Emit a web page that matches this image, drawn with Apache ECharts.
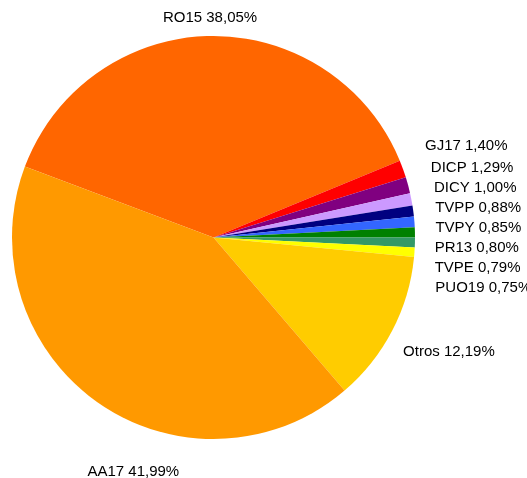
<!DOCTYPE html>
<html>
<head>
<meta charset="utf-8">
<script src="https://cdn.jsdelivr.net/npm/echarts@6/dist/echarts.min.js"></script>
<style>
  html, body { margin: 0; padding: 0; background: #ffffff; }
  #chart { width: 527px; height: 478px; }
</style>
</head>
<body>
<div id="chart"></div>
<script>
// Vote share per list (percent), clockwise from the RO15 slice
const categories = ['RO15', 'GJ17', 'DICP', 'DICY', 'TVPP', 'TVPY', 'PR13', 'TVPE', 'PUO19', 'Otros', 'AA17'];
const shares = [38.05, 1.40, 1.29, 1.00, 0.88, 0.85, 0.80, 0.79, 0.75, 12.19, 41.99];
const sliceColors = ['#ff6600', '#ff0000', '#800080', '#cc99ff', '#000080', '#3366ff', '#008000', '#339966', '#ffff00', '#ffcc00', '#ff9900'];

// Pie geometry
const CX = 213.5, CY = 237.5, R = 201.5, START = 159.4;
// Minimum vertical spacing of stacked labels on the right-hand side
const LABEL_STEP = 20;
// Extra label offsets (px) for labels that sit off their slice's mid-line
const labelShift = { AA17: [69, 21], Otros: [-7, -12] };

const fmt = v => v.toFixed(2).replace('.', ',');

// Mid angle of each slice (degrees, counter-clockwise from 3 o'clock)
const total = shares.reduce((a, b) => a + b, 0);
const midAngles = [];
let acc = 0;
shares.forEach(v => {
  midAngles.push(START - (acc + v / 2) / total * 360);
  acc += v;
});

let stackY = -Infinity;

const chart = echarts.init(document.getElementById('chart'), null, { renderer: 'canvas' });

chart.setOption({
  animation: false,
  series: [{
    type: 'pie',
    center: [CX, CY],
    radius: R,
    startAngle: START,
    clockwise: true,
    avoidLabelOverlap: false,
    data: categories.map((name, i) => ({
      name,
      value: shares[i],
      itemStyle: { color: sliceColors[i] }
    })),
    itemStyle: { borderWidth: 0 },
    label: {
      show: true,
      position: 'outside',
      overflow: 'none',
      formatter: p => p.name + ' ' + fmt(p.value) + '%',
      fontFamily: 'Liberation Sans, Arial, sans-serif',
      fontSize: 15,
      lineHeight: 20,
      color: '#000000'
    },
    labelLine: { show: false },
    // Centre each label just outside the rim along its slice's mid-line;
    // labels on the right are pushed down so they never overlap
    labelLayout: params => {
      const i = params.dataIndex;
      if (i === 0) stackY = -Infinity;
      const a = midAngles[i] * Math.PI / 180;
      const c = Math.cos(a), s = Math.sin(a);
      const hw = params.labelRect.width / 2;
      const d = R + 17 + (hw + 2 + 30 * Math.abs(s)) * Math.abs(c);
      const shift = labelShift[categories[i]] || [0, 0];
      let y = CY - d * s + shift[1];
      if (c > 0.5) {
        y = Math.max(y, stackY + LABEL_STEP);
        stackY = y;
      }
      return {
        x: CX + d * c + shift[0],
        y: y,
        align: 'center',
        verticalAlign: 'middle'
      };
    },
    emphasis: { disabled: true }
  }]
});
</script>
</body>
</html>
